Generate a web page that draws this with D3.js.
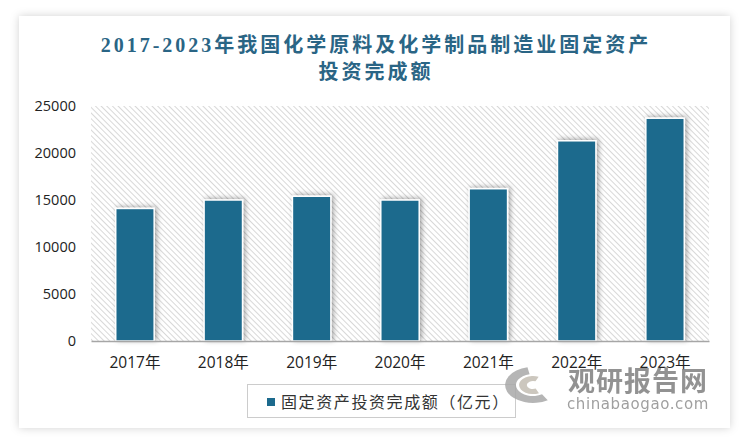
<!DOCTYPE html>
<html>
<head>
<meta charset="utf-8">
<script src="https://cdn.jsdelivr.net/npm/d3@7"></script>
<style>
  html, body { margin: 0; padding: 0; background: #ffffff; }
  svg { display: block; }
</style>
</head>
<body>
<svg id="chart" width="750" height="445"></svg>
<script>
const categories = ["2017年", "2018年", "2019年", "2020年", "2021年", "2022年", "2023年"];
const values = [14100, 15000, 15400, 15000, 16200, 21300, 23700];
const yTicks = [0, 5000, 10000, 15000, 20000, 25000];
const titleLines = ["2017-2023年我国化学原料及化学制品制造业固定资产", "投资完成额"];
const seriesName = "固定资产投资完成额（亿元）";

const svg = d3.select("#chart");
const defs = svg.append("defs");

// card shadow
const cardShadow = defs.append("filter").attr("id", "cardShadow")
  .attr("x", "-10%").attr("y", "-10%").attr("width", "120%").attr("height", "120%");
cardShadow.append("feDropShadow").attr("dx", 0).attr("dy", 0)
  .attr("stdDeviation", 4).attr("flood-color", "#000").attr("flood-opacity", 0.18);

// bar shadow
const barShadow = defs.append("filter").attr("id", "barShadow")
  .attr("x", "-40%").attr("y", "-20%").attr("width", "180%").attr("height", "140%");
barShadow.append("feDropShadow").attr("dx", 2).attr("dy", -1)
  .attr("stdDeviation", 2.5).attr("flood-color", "#000").attr("flood-opacity", 0.35);

// hatch pattern
const pat = defs.append("pattern").attr("id", "hatch")
  .attr("patternUnits", "userSpaceOnUse").attr("width", 4).attr("height", 4)
  .attr("patternTransform", "rotate(-45)");
pat.append("rect").attr("width", 4).attr("height", 4).attr("fill", "#ffffff");
pat.append("line").attr("x1", 0).attr("y1", 0).attr("x2", 0).attr("y2", 4)
  .attr("stroke", "#cfcfcf").attr("stroke-width", 1.6);

// card
svg.append("rect").attr("x", 19).attr("y", 16).attr("width", 711).attr("height", 412)
  .attr("fill", "#ffffff").attr("filter", "url(#cardShadow)");

// title
const title = svg.append("g");
titleLines.forEach((t, i) => {
  title.append("text")
    .attr("x", 376).attr("y", 52 + i * 27)
    .attr("text-anchor", "middle")
    .attr("font-family", "'Liberation Serif', 'Noto Sans CJK SC', serif")
    .attr("font-size", 20)
    .attr("font-weight", 600)
    .attr("letter-spacing", 3)
    .attr("fill", "#2a6585")
    .text(t);
});

const margin = { left: 91, right: 709, top: 106, bottom: 341 };
const x = d3.scaleBand().domain(categories).range([margin.left, margin.right]).paddingInner(0.565).paddingOuter(0.28);
const y = d3.scaleLinear().domain([0, 25000]).range([margin.bottom, margin.top]);

// plot area background
svg.append("rect").attr("x", margin.left).attr("y", margin.top)
  .attr("width", margin.right - margin.left).attr("height", margin.bottom - margin.top)
  .attr("fill", "url(#hatch)");

// bars
svg.append("g").selectAll("rect").data(values).join("rect")
  .attr("x", (d, i) => x(categories[i]))
  .attr("y", d => y(d))
  .attr("width", x.bandwidth())
  .attr("height", d => y(0) - y(d))
  .attr("fill", "#1c6a8d")
  .attr("stroke", "#ffffff")
  .attr("stroke-width", 1.5)
  .attr("filter", "url(#barShadow)");

// x axis
const xAxis = svg.append("g").attr("transform", `translate(0,${margin.bottom})`)
  .call(d3.axisBottom(x).tickSize(0).tickPadding(13));
xAxis.select(".domain").attr("stroke", "#a6a6a6").attr("stroke-width", 1.5);
xAxis.selectAll("text")
  .attr("font-family", "'Open Sans', 'Noto Sans CJK SC', sans-serif")
  .attr("font-size", 15.5).attr("fill", "#222").attr("dy", "0.9em");

// y axis
const yAxis = svg.append("g").attr("transform", `translate(${margin.left},0)`)
  .call(d3.axisLeft(y).tickValues(yTicks).tickFormat(d3.format("d")).tickSize(0).tickPadding(15));
yAxis.select(".domain").remove();
yAxis.selectAll("text")
  .attr("font-family", "'Open Sans', sans-serif")
  .attr("font-size", 14.5).attr("fill", "#222");

// legend
const lg = svg.append("g");
lg.append("rect").attr("x", 247.5).attr("y", 384.5).attr("width", 268).attr("height", 33)
  .attr("fill", "#ffffff").attr("stroke", "#cccccc").attr("stroke-width", 1);
lg.append("rect").attr("x", 267).attr("y", 398).attr("width", 8).attr("height", 8).attr("fill", "#1c6a8d");
lg.append("text").attr("x", 281).attr("y", 408)
  .attr("font-family", "'Noto Sans CJK SC', sans-serif")
  .attr("font-size", 16).attr("fill", "#333").attr("letter-spacing", 1.6)
  .text(seriesName);

// watermark
const wm = svg.append("g").attr("opacity", 0.85);
const logo = wm.append("g").attr("transform", "translate(533,385) scale(1.55,1)");
logo.append("path")
  .attr("d", d3.arc()({ innerRadius: 11, outerRadius: 18, startAngle: -0.2, endAngle: -3.7 }))
  .attr("fill", "#a9a9a9");
logo.append("path")
  .attr("d", d3.arc()({ innerRadius: 4, outerRadius: 9, startAngle: 2.7, endAngle: 6.7 }))
  .attr("fill", "#c4beb3");
wm.append("text").attr("x", 568).attr("y", 391)
  .attr("font-family", "'Noto Sans CJK SC', sans-serif")
  .attr("font-size", 27).attr("font-weight", 700).attr("fill", "#808080")
  .attr("letter-spacing", 1)
  .text("观研报告网");
wm.append("text").attr("x", 567).attr("y", 409)
  .attr("font-family", "'DejaVu Sans', sans-serif")
  .attr("font-size", 15).attr("fill", "#8f8f8f").attr("letter-spacing", 0.6)
  .text("chinabaogao.com");
</script>
</body>
</html>
